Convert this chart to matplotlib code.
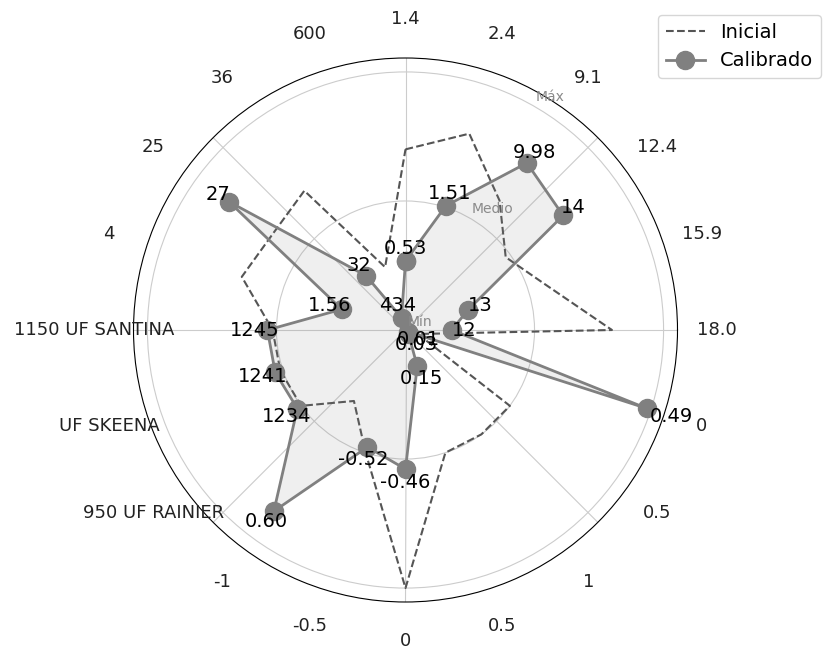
# Radar chart comparing the initial and calibrated parameter sets.
# Radii are normalised to the range of each parameter (Mín / Medio / Máx).

import numpy
import matplotlib.pyplot as plt

# parameter names / ranges shown around the chart (clockwise from the top)
axis_labels = ["1.4", "2.4", "9.1", "12.4", "15.9", "18.0", "0", "0.5", "1",
               "0.5", "0", "-0.5", "-1", "950 UF RAINIER", "UF SKEENA",
               "1150 UF SANTINA", "4", "25", "36", "600"]

# normalised initial values
inicial = [0.70, 0.80, 0.62, 0.48, 0.57, 0.80, 0.05, 0.50, 0.50, 0.50,
           1.00, 0.50, 0.34, 0.50, 0.51, 0.515, 0.667, 0.635, 0.667, 0.256]

# normalised calibrated values and their real values (as printed)
calibrado = [0.267, 0.506, 0.80, 0.755, 0.256, 0.179, 0.983, 0.01, 0.02, 0.147,
             0.539, 0.477, 0.868, 0.518, 0.531, 0.535, 0.26, 0.846, 0.26, 0.05]
calib_text = ["0.53", "1.51", "9.98", "14", "13", "12", "0.49", "0.01", "0.03",
              "0.15", "-0.46", "-0.52", "0.60", "1234", "1241", "1245", "1.56",
              "27", "32", "434"]

# radial reference levels
ref_levels = [0.0, 0.5, 1.0]
ref_names = ["Mín", "Medio", "Máx"]


def closed(values):
    """Returns the list with its first element repeated at the end."""
    return list(values) + [values[0]]


n = len(axis_labels)
theta = numpy.deg2rad(90. - 360. / n * numpy.arange(n))
theta_c = closed(list(theta))

fig = plt.figure(figsize=(8.26, 6.47), dpi=100)
ax = fig.add_axes([133.5 / 826, 45. / 647, 544. / 826, 544. / 647], projection='polar')

ax.plot(theta_c, closed(inicial), color='#555555', ls='--', lw=1.5, label='Inicial')
ax.fill(theta_c, closed(calibrado), color='gray', alpha=0.12, zorder=2)
ax.plot(theta_c, closed(calibrado), color='#808080', lw=2.0, marker='o',
        markersize=13, label='Calibrado', zorder=3)

# value labels just outside each calibrated point
for i in range(n):
    pad = 0.10 if i == 6 else 0.05
    ax.text(theta[i], calibrado[i] + pad, calib_text[i], ha='center', va='center',
            fontsize=14, color='black', zorder=5)

# parameter labels around the outside
for i in range(n):
    ax.text(theta[i], 1.207, axis_labels[i], ha='center', va='center',
            fontsize=13, color='#222222', clip_on=False)

# radial grid and its labels
ax.set_ylim(0, 1.054)
ax.set_yticks(ref_levels)
ax.set_yticklabels([])
ax.set_xticklabels([])
ax.grid(color='#cccccc', lw=0.8)
ref_pos = [(28.9, 0.064), (54.4, 0.576), (58.2, 1.064)]
for name, (ang, rr) in zip(ref_names, ref_pos):
    ax.text(numpy.deg2rad(ang), rr, name, ha='center', va='center',
            fontsize=10, color='#8a8a8a', zorder=4)

ax.legend(loc='upper left', bbox_to_anchor=(658. / 826, 1 - 15. / 647),
          bbox_transform=fig.transFigure, borderaxespad=0., fontsize=14)

fig.savefig('out.png', dpi=100)
